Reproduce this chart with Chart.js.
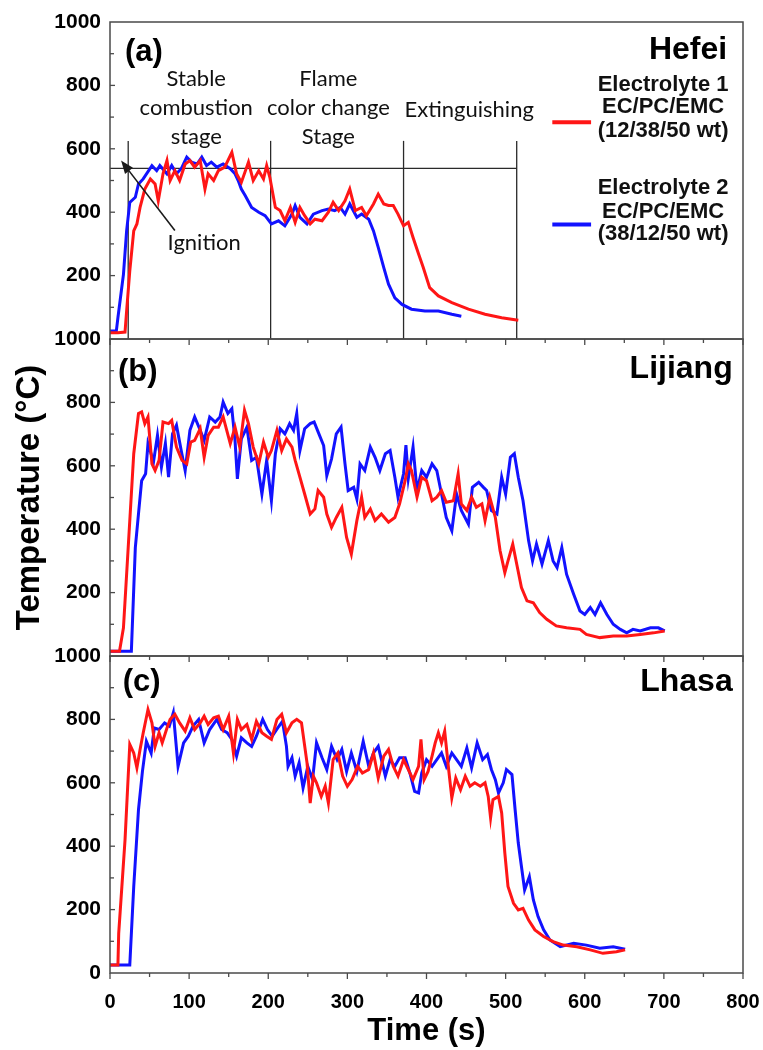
<!DOCTYPE html>
<html><head><meta charset="utf-8">
<script src="https://cdn.jsdelivr.net/npm/chart.js@4/dist/chart.umd.min.js"></script>
<style>html,body{margin:0;padding:0;background:#fff;}#wrap{width:763px;height:1050px;}</style>
</head><body><div id="wrap"><canvas id="c" width="763" height="1050"></canvas></div>
<script>
// ---------- DATA ----------
const xTicks = [0,100,200,300,400,500,600,700,800];
const yTicks = [0,200,400,600,800,1000];
const panelNames = ['Hefei','Lijiang','Lhasa'];
const panelTags = ['(a)','(b)','(c)'];
const seriesNames = ['Electrolyte 1','Electrolyte 2'];
const seriesComp = ['EC/PC/EMC','EC/PC/EMC'];
const seriesRatio = ['(12/38/50 wt)','(38/12/50 wt)'];
const stageBounds = [23,203,371,514];
const stageLevel = 538;

// Hefei
const hefeiTime1 = [0,10,19,21,25,30,34,38,44,51,57,61,67,72,76,82,88,95,101,107,114,120,124,131,137,145,154,160,166,175,181,188,194,198,202,209,215,221,228,234,240,246,253,259,268,276,282,289,297,303,310,318,324,333,339,346,352,358,364,371,377,383,390,396,404,415,432,453,474,495,516];
const hefeiTemp1 = [20,20,22,88,215,341,363,415,473,505,489,436,521,563,500,531,500,552,563,542,563,473,521,500,531,542,589,521,494,558,500,531,505,547,510,415,405,373,415,368,415,389,363,378,373,400,431,405,436,473,405,415,389,426,457,426,421,421,394,357,368,320,268,225,162,136,115,94,78,67,59];
const hefeiTime2 = [0,8,10,17,21,25,32,36,42,53,59,63,72,78,84,90,97,103,110,116,122,128,135,143,152,158,162,166,171,179,188,196,204,213,221,230,234,240,249,257,268,276,284,291,297,303,312,318,327,333,339,346,352,360,369,381,398,415,432,444];
const hefeiTemp2 = [25,25,67,204,341,431,447,489,505,547,531,547,521,547,521,537,574,558,552,574,547,558,542,552,537,521,500,473,452,415,400,389,363,373,357,394,421,384,363,394,405,410,405,415,394,426,384,394,378,341,289,225,173,130,109,94,88,88,78,72];

// Lijiang
const lijiangTime1 = [0,12,17,23,30,36,40,44,48,53,57,62,67,74,78,84,91,97,102,107,114,119,124,131,137,143,152,158,164,170,175,181,188,194,200,204,211,217,223,230,234,240,246,253,259,263,270,274,280,286,293,299,305,312,318,322,329,335,343,352,360,366,373,377,381,388,394,400,407,413,419,425,434,440,444,451,457,463,470,474,480,487,493,499,503,509,514,520,527,535,543,552,564,577,594,602,619,636,653,670,687,701];
const lijiangTemp1 = [15,15,89,342,638,765,770,733,754,606,585,617,738,733,743,659,617,606,675,680,717,627,696,722,722,754,670,722,659,775,733,659,606,675,627,648,712,648,685,659,617,564,511,448,464,522,501,448,406,437,469,374,321,427,501,437,464,427,448,422,437,480,553,606,585,501,564,553,490,501,522,485,490,575,480,459,501,469,480,427,501,437,332,263,300,353,290,216,174,168,137,116,95,89,84,68,58,63,63,68,73,79];
const lijiangTime2 = [0,27,32,36,40,45,48,55,60,65,70,74,79,84,90,95,101,107,114,119,126,133,139,143,149,154,158,161,166,173,179,185,192,198,204,209,215,221,227,232,236,240,246,253,258,263,270,274,280,286,292,297,301,308,312,316,322,329,335,341,348,354,360,364,371,374,377,383,388,394,400,407,413,419,425,432,438,444,453,458,466,472,476,482,489,495,500,506,511,516,522,529,534,539,546,554,560,565,571,577,586,594,600,607,613,620,628,636,645,653,661,670,683,693,701];
const lijiangTemp2 = [15,15,342,448,553,575,670,612,696,596,670,564,701,728,648,585,712,754,712,680,754,738,754,801,765,780,680,559,685,722,617,627,511,617,490,638,717,701,733,712,765,648,717,733,738,707,664,569,622,701,722,606,522,532,495,606,585,659,627,585,638,648,564,501,575,665,560,659,522,585,564,606,585,511,437,395,511,459,416,532,548,532,522,459,448,564,511,627,638,564,490,364,300,353,290,364,300,279,342,258,195,142,131,153,131,168,131,100,84,73,84,79,89,89,79];

// Lhasa
const lhasaTime1 = [0,10,11,19,25,30,34,38,42,48,53,57,62,66,72,76,82,88,95,101,107,114,119,124,131,137,143,150,156,161,166,173,179,185,192,198,204,211,217,223,230,236,242,249,253,257,261,267,272,276,282,288,294,300,306,313,319,327,333,339,346,352,358,364,371,377,383,390,393,397,402,407,411,415,419,423,428,432,437,443,449,455,461,468,474,478,481,484,491,495,499,503,510,516,522,529,537,548,560,573,590,607,623,640,651];
const lhasaTemp1 = [25,25,125,420,721,694,647,705,758,831,789,715,758,726,773,800,816,789,763,805,768,789,810,784,805,810,768,810,694,800,768,784,737,794,758,747,737,800,816,758,789,800,789,663,536,621,600,557,589,536,673,694,621,589,610,652,631,642,694,615,684,705,652,621,673,642,610,652,737,610,636,684,726,758,726,763,642,552,615,578,621,589,600,589,600,557,489,547,557,505,378,273,220,199,204,167,136,115,99,88,83,73,62,67,73];
const lhasaTime2 = [0,25,30,36,41,46,52,56,62,69,75,80,86,93,99,105,112,119,126,135,141,148,154,160,166,173,179,185,193,199,205,212,218,223,225,230,234,239,244,250,256,261,268,274,280,287,293,299,305,312,320,327,333,339,348,354,360,366,373,379,385,390,394,400,407,413,419,425,432,438,444,451,457,464,471,477,482,487,491,497,501,508,512,516,520,524,530,535,541,548,556,569,586,602,619,636,651];
const lhasaTemp2 = [25,25,273,515,636,731,694,773,768,789,779,821,652,726,747,779,800,726,768,800,768,758,737,684,742,726,715,747,800,768,747,773,794,715,652,679,621,663,584,652,610,726,679,642,715,673,705,636,694,636,731,652,694,715,621,673,652,679,679,631,573,568,631,673,652,673,694,652,694,673,652,710,647,726,673,689,642,610,568,600,642,626,515,410,336,262,304,231,178,136,104,83,94,88,78,83,75];

// ---------- CHART ----------
const RED = '#ff1616', BLUE = '#1212ff';
const pts = (t, v) => t.map((x, i) => ({x: x, y: v[i]}));
const ds = (label, t, v, color, axis) => ({label, data: pts(t, v), yAxisID: axis, xAxisID: 'x',
  borderColor: color, backgroundColor: color, borderWidth: 3, pointRadius: 0, tension: 0, fill: false});

const LFONT = "'Liberation Sans', Arial, sans-serif";
const SFONT = "Lato, 'Open Sans', sans-serif";
const tickFont = {family: LFONT, weight: 'bold', size: 21};
function yScale(w, hideZero, withTitle) {
  return {
    type: 'linear', position: 'left', stack: 'panels', stackWeight: 1, weight: w,
    min: 0, max: 1000,
    afterBuildTicks: s => { s.ticks = yTicks.map(v => ({value: v})); },
    ticks: {padding: 9, color: '#000', font: tickFont, autoSkip: false,
      callback: v => (hideZero && v === 0) ? '' : String(v)},
    grid: {display: false, drawTicks: false}, border: {display: false},
    title: {display: withTitle, text: 'Temperature (°C)', color: '#000',
      font: {family: LFONT, weight: 'bold', size: 33}, padding: {top: 10, bottom: 0}},
    afterFit: s => { s.width = 110; s.paddingTop = 0; s.paddingBottom = 0; }
  };
}

const deco = {
  id: 'deco',
  beforeDatasetsDraw(chart) {
    const c = chart.ctx, X = chart.scales.x, A = chart.scales.ya;
    c.save();
    c.strokeStyle = '#2a2a2a'; c.lineWidth = 1.3;
    stageBounds.forEach(t => {
      const px = X.getPixelForValue(t);
      c.beginPath(); c.moveTo(px, A.getPixelForValue(625)); c.lineTo(px, A.getPixelForValue(0)); c.stroke();
    });
    c.beginPath();
    c.moveTo(X.getPixelForValue(0), A.getPixelForValue(stageLevel));
    c.lineTo(X.getPixelForValue(stageBounds[3]), A.getPixelForValue(stageLevel));
    c.stroke();
    c.restore();
  },
  afterDatasetsDraw(chart) {
    const c = chart.ctx, X = chart.scales.x;
    const S = [chart.scales.ya, chart.scales.yb, chart.scales.yc];
    c.save();
    // frames
    c.strokeStyle = '#4a4a4a'; c.lineWidth = 1.5;
    S.forEach(s => c.strokeRect(X.left, s.top, X.right - X.left, s.bottom - s.top));
    // x ticks
    c.lineWidth = 1.3;
    for (let t = 0; t <= 800; t += 50) {
      const px = X.getPixelForValue(t), len = (t % 100 === 0) ? 6 : 4;
      [S[1].top, S[2].top, S[2].bottom].forEach(py => {
        c.beginPath(); c.moveTo(px, py); c.lineTo(px, py + len); c.stroke();
      });
    }
    // y ticks
    S.forEach(s => {
      for (let v = 100; v < 1000; v += 100) {
        const py = s.getPixelForValue(v), len = (v % 200 === 0) ? 5 : 4;
        c.beginPath(); c.moveTo(X.left, py); c.lineTo(X.left + len, py); c.stroke();
      }
    });
    const txt = (str, x, y, font, align, color) => {
      c.font = font; c.textAlign = align; c.textBaseline = 'middle'; c.fillStyle = color || '#000';
      c.fillText(str, x, y);
    };
    const A = S[0];
    // stage labels
    const sf = '22px ' + SFONT;
    [['Stable', 820], ['combustion', 728], ['stage', 636]].forEach(([s, v]) =>
      txt(s, X.getPixelForValue(109), A.getPixelForValue(v), sf, 'center', '#111'));
    [['Flame', 820], ['color change', 728], ['Stage', 636]].forEach(([s, v]) =>
      txt(s, X.getPixelForValue(276), A.getPixelForValue(v), sf, 'center', '#111'));
    txt('Extinguishing', X.getPixelForValue(454), A.getPixelForValue(722), sf, 'center', '#111');
    txt('Ignition', X.getPixelForValue(119), A.getPixelForValue(304), sf, 'center', '#111');
    // arrow
    const ax0 = X.getPixelForValue(82), ay0 = A.getPixelForValue(342);
    const ax1 = X.getPixelForValue(14), ay1 = A.getPixelForValue(563);
    c.strokeStyle = '#1a1a1a'; c.fillStyle = '#1a1a1a'; c.lineWidth = 1.6;
    const ang = Math.atan2(ay1 - ay0, ax1 - ax0);
    c.beginPath(); c.moveTo(ax0, ay0); c.lineTo(ax1 - 8 * Math.cos(ang), ay1 - 8 * Math.sin(ang)); c.stroke();
    c.beginPath(); c.moveTo(ax1, ay1);
    c.lineTo(ax1 - 13 * Math.cos(ang) + 5 * Math.sin(ang), ay1 - 13 * Math.sin(ang) - 5 * Math.cos(ang));
    c.lineTo(ax1 - 13 * Math.cos(ang) - 5 * Math.sin(ang), ay1 - 13 * Math.sin(ang) + 5 * Math.cos(ang));
    c.closePath(); c.fill();
    // panel tags and names
    const tagPos = [[19, 905], [10, 895], [16, 917]];
    const namePos = [[780, 911], [787, 905], [787, 917]];
    S.forEach((s, i) => {
      txt(panelTags[i], X.getPixelForValue(tagPos[i][0]), s.getPixelForValue(tagPos[i][1]), 'bold 31px ' + LFONT, 'left');
      txt(panelNames[i], X.getPixelForValue(namePos[i][0]), s.getPixelForValue(namePos[i][1]), 'bold 32px ' + LFONT, 'right');
    });
    // legend
    const legY = [684, 361], legTxt = [[801, 731, 655], [475, 402, 332]], cols = [RED, BLUE];
    c.lineWidth = 4;
    [0, 1].forEach(i => {
      c.strokeStyle = cols[i];
      c.beginPath(); c.moveTo(X.getPixelForValue(559), A.getPixelForValue(legY[i]));
      c.lineTo(X.getPixelForValue(608), A.getPixelForValue(legY[i])); c.stroke();
      [seriesNames[i], seriesComp[i], seriesRatio[i]].forEach((s, k) =>
        txt(s, X.getPixelForValue(699), A.getPixelForValue(legTxt[i][k]), 'bold 22px ' + LFONT, 'center', '#111'));
    });
    c.restore();
  }
};

new Chart(document.getElementById('c'), {
  type: 'line',
  data: {datasets: [
    ds('Electrolyte 1 — Hefei', hefeiTime1, hefeiTemp1, RED, 'ya'),
    ds('Electrolyte 2 — Hefei', hefeiTime2, hefeiTemp2, BLUE, 'ya'),
    ds('Electrolyte 1 — Lijiang', lijiangTime1, lijiangTemp1, RED, 'yb'),
    ds('Electrolyte 2 — Lijiang', lijiangTime2, lijiangTemp2, BLUE, 'yb'),
    ds('Electrolyte 1 — Lhasa', lhasaTime1, lhasaTemp1, RED, 'yc'),
    ds('Electrolyte 2 — Lhasa', lhasaTime2, lhasaTemp2, BLUE, 'yc')
  ]},
  options: {
    responsive: false, animation: false, devicePixelRatio: 1,
    layout: {padding: {left: 0, top: 22, right: 20, bottom: 0}},
    plugins: {legend: {display: false}, tooltip: {enabled: false}},
    scales: {
      x: {type: 'linear', position: 'bottom', min: 0, max: 800,
        afterBuildTicks: s => { s.ticks = xTicks.map(v => ({value: v})); },
        ticks: {padding: 17, color: '#000', font: {family: LFONT, weight: 'bold', size: 20}, maxRotation: 0, autoSkip: false},
        grid: {display: false, drawTicks: false}, border: {display: false},
        title: {display: true, text: 'Time (s)', color: '#000', font: {family: LFONT, weight: 'bold', size: 31}, padding: {top: 0, bottom: 0}},
        afterFit: s => { s.height = 77; s.paddingLeft = 0; s.paddingRight = 0; }},
      ya: yScale(3, true, false),
      yb: yScale(2, true, true),
      yc: yScale(1, false, false)
    }
  },
  plugins: [deco]
});
</script></body></html>
